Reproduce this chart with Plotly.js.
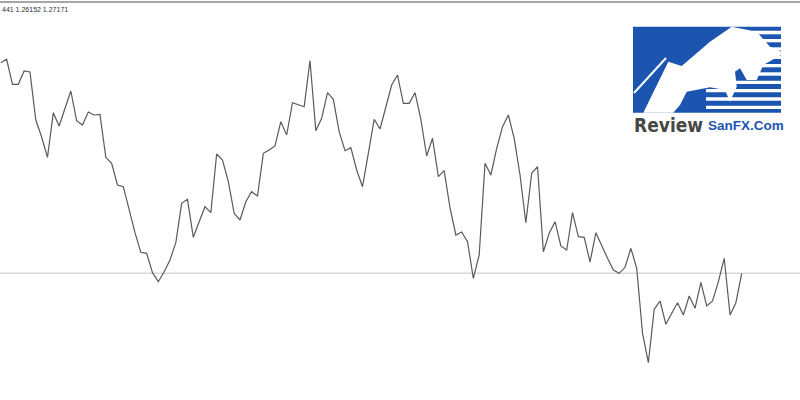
<!DOCTYPE html>
<html>
<head>
<meta charset="utf-8">
<script src="https://cdn.plot.ly/plotly-3.0.1.min.js"></script>
<style>html,body{margin:0;padding:0;background:#fff;}#chart{width:800px;height:400px;}</style>
</head>
<body>
<div id="chart"></div>
<script>
// Bar index (H4 bars) and close prices
const barIndex = Array.from({length: 128}, (_, i) => i);
const closes = [
  1.29277, 1.29311, 1.29061, 1.29061, 1.29194, 1.29184, 1.28704, 1.28534, 1.28331, 1.28777,
  1.28644, 1.28824, 1.28994, 1.28697, 1.28654, 1.28784, 1.28754, 1.28761, 1.28331, 1.28271,
  1.28054, 1.28037, 1.27805, 1.27577, 1.27381, 1.27371, 1.27177, 1.27087, 1.27187, 1.27304,
  1.27477, 1.27871, 1.27911, 1.27531, 1.27687, 1.27837, 1.27777, 1.28364, 1.28304, 1.28087,
  1.27771, 1.27704, 1.27887, 1.27987, 1.27944, 1.28371, 1.28404, 1.28444, 1.28687, 1.28554,
  1.28877, 1.28854, 1.28837, 1.29297, 1.28597, 1.28721, 1.28977, 1.28911, 1.28587, 1.28397,
  1.28427, 1.28204, 1.28037, 1.28371, 1.28711, 1.28614, 1.28821, 1.29054, 1.29154, 1.28871,
  1.28871, 1.28977, 1.28711, 1.28344, 1.28521, 1.28137, 1.28197, 1.27824, 1.27554, 1.27584,
  1.27487, 1.27121, 1.27354, 1.28271, 1.28154, 1.28421, 1.28637, 1.28754, 1.28521, 1.28154,
  1.27677, 1.28171, 1.28237, 1.27387, 1.27571, 1.27687, 1.27444, 1.27404, 1.27777, 1.27537,
  1.27531, 1.27284, 1.27577, 1.27444, 1.27321, 1.27204, 1.27171, 1.27231, 1.27421, 1.27221,
  1.26571, 1.26277, 1.26811, 1.26894, 1.26661, 1.26771, 1.26877, 1.26754, 1.26944, 1.26821,
  1.27081, 1.26844, 1.26894, 1.27087, 1.27321, 1.26754, 1.26877, 1.27171
];
const headerText = "441 1.26152 1.27171";
const logoWord1 = "Review";
const logoWord2 = "SanFX.Com";
const lastClose = closes[closes.length - 1];

// helpers: pixel -> paper coordinates for the decorative logo
const W = 800, H = 400;
const px = (x, y) => (x / W).toFixed(5) + ',' + (1 - y / H).toFixed(5);
const poly = pts => 'M' + pts.map(p => px(p[0], p[1])).join(' L') + ' Z';

const blue = '#1b55b0';
const shapes = [];
// top frame line
shapes.push({type: 'line', xref: 'paper', yref: 'paper', x0: 0, x1: 1, y0: 1 - 2 / H, y1: 1 - 2 / H,
  line: {color: '#a6a6a6', width: 2}});
// last close level line
shapes.push({type: 'line', xref: 'paper', yref: 'y', x0: 0, x1: 1, y0: lastClose, y1: lastClose,
  line: {color: '#d9d9d9', width: 1.5}, layer: 'below'});
// logo: blue block
shapes.push({type: 'rect', xref: 'paper', yref: 'paper', x0: 633 / W, x1: 781 / W, y0: 1 - 112.7 / H, y1: 1 - 26.7 / H,
  fillcolor: blue, line: {width: 0}});
// logo stripes
const stripes = [[30.7, 34.3, 752], [39, 42.3, 760], [47.3, 50.7, 765], [55.7, 59, 762], [64, 67.3, 760],
  [72.3, 75.7, 752], [80.7, 84, 712], [89, 92.3, 706], [97.3, 100.7, 706], [105.7, 109, 706]];
stripes.forEach(s => shapes.push({type: 'rect', xref: 'paper', yref: 'paper', x0: s[2] / W, x1: 781 / W,
  y0: 1 - s[1] / H, y1: 1 - s[0] / H, fillcolor: '#ffffff', line: {width: 0}}));
// logo bull / mountain silhouette
shapes.push({type: 'path', xref: 'paper', yref: 'paper', fillcolor: '#ffffff', line: {width: 0},
  path: poly([[643.3, 112.7], [668.3, 61.7], [681.7, 66], [710, 41.7], [731.7, 26.7], [756.7, 31.7], [770, 46.7],
    [781, 51.7], [781, 55], [763.3, 65], [756.7, 80], [746.7, 80], [740, 68.3], [735, 71.7], [736.7, 86.7],
    [730, 101.7], [725, 90], [710, 87.3], [686.7, 91.7], [680, 105], [673.3, 112.7]])});
shapes.push({type: 'path', xref: 'paper', yref: 'paper', line: {color: '#ffffff', width: 2},
  path: 'M' + px(634, 93) + ' L' + px(666, 58)});

const trace = {
  x: barIndex, y: closes, type: 'scatter', mode: 'lines',
  line: {color: '#5a5a5a', width: 1.2}, hoverinfo: 'skip'
};

const layout = {
  width: 800, height: 400,
  margin: {l: 0, r: 0, t: 0, b: 0},
  paper_bgcolor: '#ffffff', plot_bgcolor: '#ffffff',
  showlegend: false,
  xaxis: {range: [-0.137, 136.99], visible: false, fixedrange: true},
  yaxis: {range: [1.25904, 1.29904], visible: false, fixedrange: true},
  shapes: shapes,
  annotations: [
    {xref: 'paper', yref: 'paper', x: 0, y: 1 - 4 / H, xanchor: 'left', yanchor: 'top', showarrow: false,
      text: headerText, font: {family: 'Liberation Sans, Arial, sans-serif', size: 7, color: '#333333'}},
    {xref: 'paper', yref: 'paper', x: 632 / W, y: 1 - 125 / H, xanchor: 'left', yanchor: 'middle', showarrow: false,
      text: '<b>' + logoWord1 + '</b>', font: {family: 'DejaVu Sans Condensed, DejaVu Sans, sans-serif', size: 19, color: '#474747'}},
    {xref: 'paper', yref: 'paper', x: 706 / W, y: 1 - 126 / H, xanchor: 'left', yanchor: 'middle', showarrow: false,
      text: '<b>' + logoWord2 + '</b>', font: {family: 'Liberation Sans, Arial, sans-serif', size: 13.5, color: blue}}
  ]
};

Plotly.newPlot('chart', [trace], layout, {staticPlot: true, displayModeBar: false});
</script>
</body>
</html>
